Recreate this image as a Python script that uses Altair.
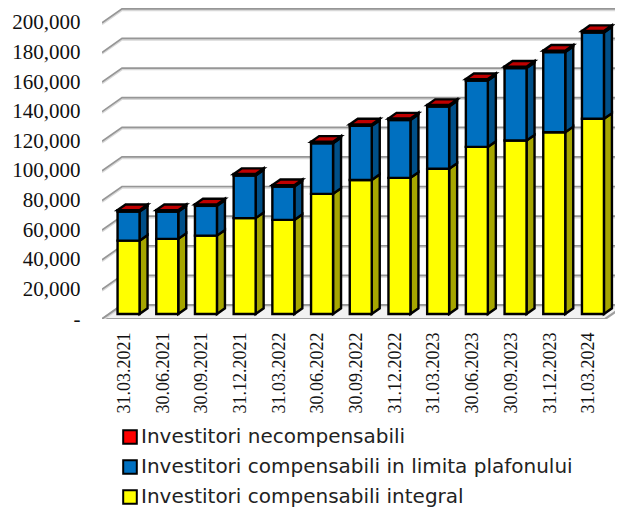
import altair as alt
import pandas as pd

dates = ["31.03.2021","30.06.2021","30.09.2021","31.12.2021","31.03.2022","30.06.2022","30.09.2022",
         "31.12.2022","31.03.2023","30.06.2023","30.09.2023","31.12.2023","31.03.2024"]
integral = [49500,50700,52900,64700,63500,81100,90500,91900,98000,112800,117100,122700,131800]
plafon = [19600,18400,20100,28800,22500,34200,36500,39100,42100,44800,48900,54100,58300]
necomp = [1000,1000,1000,1000,1000,1000,1000,1000,1000,1000,1000,1000,1000]
ticks = list(range(0, 200001, 20000))
names = ["Investitori necompensabili", "Investitori compensabili in limita plafonului", "Investitori compensabili integral"]

# Oblique projection: depth 0 = front floor edge, depth 1 = back wall
DX, DY = 0.517, 9460      # x units and value units per full depth
BAR_D0, BAR_D1 = 0.36, 0.76
HALF = 0.284
XMIN, XMAX = -0.5, 12.756
YMAX = 210000


def proj(x, v, d):
    return x + d * DX, v + d * DY


floor = pd.DataFrame([
    {"x": proj(XMIN, 0, 0)[0], "x2": proj(12.5, 0, 0)[0], "y": proj(0, 0, 0)[1]},
    {"x": proj(XMIN, 0, 1)[0], "x2": proj(12.5, 0, 1)[0], "y": proj(0, 0, 1)[1]},
])

grid = []
for t in ticks:
    grid.append({"t": t, "x": proj(XMIN, t, 0)[0], "y": proj(XMIN, t, 0)[1], "o": 0})
    grid.append({"t": t, "x": proj(XMIN, t, 1)[0], "y": proj(XMIN, t, 1)[1], "o": 1})
    grid.append({"t": t, "x": XMAX, "y": proj(XMIN, t, 1)[1], "o": 2})
grid = pd.DataFrame(grid)

fronts, sides, tops = [], [], []
for i, _ in enumerate(dates):
    base = 0
    for name, val, col, dark in (
        (names[2], integral[i], "#ffff00", "#a6a600"),
        (names[1], plafon[i], "#0070c0", "#004f88"),
        (names[0], necomp[i], "#ff0000", "#a60000"),
    ):
        l = i - HALF
        r = i + HALF
        top = base + val
        fx0, fb = proj(l, base, BAR_D0)
        fx1, ft = proj(r, top, BAR_D0)
        fronts.append({"x": fx0, "x2": fx1, "y": fb, "y2": ft, "name": name})
        sx0, sb0 = proj(r, base, BAR_D0)
        sx1, sb1 = proj(r, base, BAR_D1)
        sides.append({"id": f"{i}{name}", "x": sx0, "y": sb0, "y2": sb0 + val, "col": dark})
        sides.append({"id": f"{i}{name}", "x": sx1, "y": sb1, "y2": sb1 + val, "col": dark})
        base = top
    tx0, ty0 = proj(i - HALF, base, BAR_D0)
    tx1, _ = proj(i + HALF, base, BAR_D0)
    bx0, ty1 = proj(i - HALF, base, BAR_D1)
    bx1, _ = proj(i + HALF, base, BAR_D1)
    tops.append({"id": i, "x": tx0, "x2": tx1, "y": ty0})
    tops.append({"id": i, "x": bx0, "x2": bx1, "y": ty1})
fronts, sides, tops = pd.DataFrame(fronts), pd.DataFrame(sides), pd.DataFrame(tops)

label_arr = "[" + ",".join(f"'{d}'" for d in dates) + "]"
xaxis = alt.Axis(
    values=list(range(13)), labelExpr=f"{label_arr}[datum.value]", labelAngle=-90,
    labelFont="Liberation Serif", labelFontSize=18, labelColor="#111111", labelPadding=13,
    labelOffset=3, labelOverlap=False, ticks=False, domain=False, grid=False, title=None,
    labelBound=False, labelFlush=False)
yaxis = alt.Axis(
    values=ticks, labelExpr="datum.value === 0 ? '-\u00a0\u00a0' : format(datum.value, ',')",
    labelFont="Liberation Serif", labelFontSize=21, labelColor="#111111", labelPadding=22,
    ticks=False, domain=False, grid=False, title=None, labelOverlap=False)

xs = alt.Scale(domain=[XMIN, XMAX], nice=False, zero=False)
ys = alt.Scale(domain=[0, YMAX], nice=False, zero=False)
X = alt.X("x:Q", scale=xs, axis=xaxis)
Y = alt.Y("y:Q", scale=ys, axis=yaxis, stack=None)

floor_l = alt.Chart(floor).mark_area(orient="horizontal", fill="#f2f2f2", stroke="#a0a0a0", strokeWidth=2.2, clip=True).encode(
    y=Y, x=X, x2="x2:Q")
grid_sh = alt.Chart(grid).transform_calculate(y3="datum.y - 900").mark_line(color="#d8d8d8", strokeWidth=2, clip=True).encode(
    x=X, y=alt.Y("y3:Q", scale=ys, axis=yaxis), detail="t:N", order="o:Q")
grid_l = alt.Chart(grid).mark_line(color="#969696", strokeWidth=1.7, clip=True).encode(
    x=X, y=Y, detail="t:N", order="o:Q")

side_l = alt.Chart(sides).mark_area(stroke="black", strokeWidth=2.4, strokeJoin="miter").encode(
    x=X, y=Y, y2="y2:Q", detail="id:N", fill=alt.Fill("col:N", scale=None))
top_l = alt.Chart(tops).mark_area(orient="horizontal", fill="#c00000", stroke="black", strokeWidth=2.4).encode(
    y=Y, x=X, x2="x2:Q", detail="id:N")
front_l = alt.Chart(fronts).mark_rect(stroke="black", strokeWidth=2.4).encode(
    x=X, x2="x2:Q", y=Y, y2="y2:Q",
    fill=alt.Fill("name:N", scale=alt.Scale(domain=names, range=["#ff0000", "#0070c0", "#ffff00"]),
                  legend=alt.Legend(
                      orient="none", legendX=18, legendY=419, title=None, symbolType="square",
                      symbolSize=185, symbolStrokeColor="black", symbolStrokeWidth=2, symbolOpacity=1,
                      labelFont="DejaVu Sans", labelFontSize=20, labelColor="#222222", labelLimit=520,
                      rowPadding=8, labelOffset=1)))

chart = alt.layer(floor_l, grid_sh, grid_l, side_l, front_l, top_l).properties(
    width=513, height=311,
    padding={"left": 94, "top": 0, "right": 0, "bottom": 191},
    autosize=alt.AutoSizeParams(type="none"),
    background="white",
).configure_view(stroke=None)

chart.save("out.html", embed_options={"renderer": "svg", "actions": False})
